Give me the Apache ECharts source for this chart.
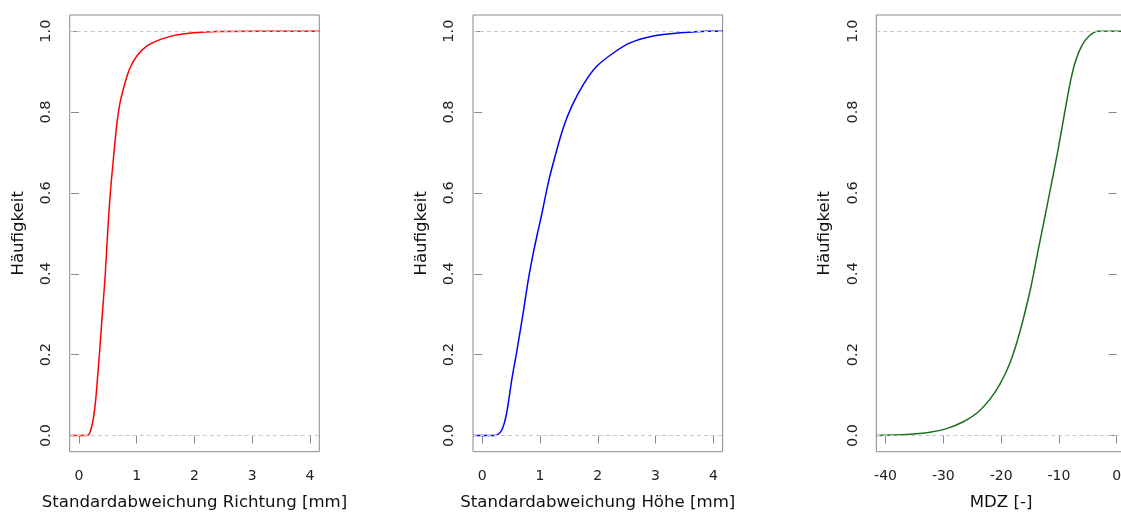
<!DOCTYPE html>
<html>
<head>
<meta charset="utf-8">
<style>
html,body{margin:0;padding:0;background:#fff;}
#c{width:1121px;height:512px;}
</style>
<script src="https://cdn.jsdelivr.net/npm/echarts@6/dist/echarts.min.js"></script>
</head>
<body>
<div id="c"></div>
<script>
// ---- data ----
const yTicks = [0, 0.2, 0.4, 0.6, 0.8, 1.0];
const x1Ticks = [0, 1, 2, 3, 4];
const x2Ticks = [0, 1, 2, 3, 4];
const x3Ticks = [-40, -30, -20, -10, 0];

const titles = ['Standardabweichung Richtung [mm]', 'Standardabweichung Höhe [mm]', 'MDZ [-]'];
const yName = 'Häufigkeit';

const redX = [-0.16, 0.144, 0.219, 0.277, 0.323, 0.364, 0.410, 0.456, 0.496, 0.543, 0.595, 0.652, 0.710, 0.797, 0.883, 0.999, 1.172, 1.403, 1.633, 1.980, 2.384, 4.16];
const redY = [0, 0, 0.021, 0.071, 0.145, 0.220, 0.310, 0.400, 0.500, 0.600, 0.682, 0.765, 0.822, 0.872, 0.909, 0.938, 0.963, 0.979, 0.989, 0.996, 0.999, 1.0];

const blueX = [-0.16, 0.22, 0.336, 0.42, 0.51, 0.60, 0.71, 0.797, 0.883, 0.97, 1.028, 1.143, 1.259, 1.403, 1.548, 1.749, 1.981, 2.268, 2.558, 2.961, 3.423, 3.886, 4.16];
const blueY = [0, 0, 0.013, 0.054, 0.137, 0.21, 0.305, 0.385, 0.451, 0.509, 0.546, 0.625, 0.69, 0.761, 0.814, 0.868, 0.913, 0.946, 0.971, 0.988, 0.996, 1.0, 1.0];

const greenX = [-41.62, -36.36, -32.32, -29.43, -26.54, -24.23, -21.92, -20.2, -18.45, -16.72, -14.83, -13.69, -12.53, -11.38, -10.24, -8.79, -7.93, -7.07, -6.0, -4.76, -3.3, 1.6];
const greenY = [0, 0.0025, 0.008, 0.017, 0.034, 0.055, 0.09, 0.127, 0.18, 0.258, 0.368, 0.451, 0.533, 0.616, 0.699, 0.815, 0.88, 0.928, 0.965, 0.988, 1.0, 1.0];

// ---- chart ----
const FONT = 'DejaVu Sans';
const pairs = (xs, ys) => xs.map((x, i) => [x, ys[i]]);

const panels = [
  {left: 69.7, xmin: -0.16, xmax: 4.16, ticks: x1Ticks, color: '#ff0000', data: pairs(redX, redY)},
  {left: 473, xmin: -0.16, xmax: 4.16, ticks: x2Ticks, color: '#0000ff', data: pairs(blueX, blueY)},
  {left: 876.3, xmin: -41.6, xmax: 1.6, ticks: x3Ticks, color: '#1b701b', data: pairs(greenX, greenY)}
];

const grid = [], xAxis = [], yAxis = [], series = [];
panels.forEach((p, i) => {
  grid.push({left: p.left, top: 15, width: 249.6, height: 436.7, show: true,
    outerBoundsMode: 'none', containLabel: false,
    borderColor: '#8a8a8a', borderWidth: 1, backgroundColor: 'transparent'});
  xAxis.push({
    type: 'value', gridIndex: i, min: p.xmin, max: p.xmax,
    axisLine: {show: false},
    splitLine: {show: false},
    axisTick: {show: true, customValues: p.ticks, length: 8, inside: false, lineStyle: {color: '#8a8a8a', width: 1}},
    axisLabel: {customValues: p.ticks, margin: 18, color: '#222', fontFamily: FONT, fontSize: 14,
      formatter: v => String(v)},
    name: titles[i], nameLocation: 'middle', nameGap: 42,
    nameTextStyle: {color: '#111', fontFamily: FONT, fontSize: 16.6}
  });
  yAxis.push({
    type: 'value', gridIndex: i, min: -0.04, max: 1.04,
    axisLine: {show: false},
    splitLine: {show: false},
    axisTick: {show: true, customValues: yTicks, length: 8, inside: false, lineStyle: {color: '#8a8a8a', width: 1}},
    axisLabel: {customValues: yTicks, rotate: 90, margin: 16, color: '#222', fontFamily: FONT, fontSize: 14.5,
      formatter: v => v.toFixed(1)},
    name: yName, nameLocation: 'middle', nameGap: 43,
    nameTextStyle: {color: '#111', fontFamily: FONT, fontSize: 16.6}
  });
  series.push({
    type: 'line', xAxisIndex: i, yAxisIndex: i, data: p.data,
    showSymbol: false, smooth: 0.3, clip: true,
    lineStyle: {color: p.color, width: 1.5},
    z: 3,
    markLine: {
      silent: true, symbol: ['none', 'none'], label: {show: false},
      lineStyle: {type: [4, 3], color: '#c8c8c8', width: 1},
      data: [{yAxis: 0}, {yAxis: 1}]
    }
  });
});

const chart = echarts.init(document.getElementById('c'), null, {renderer: 'canvas'});
chart.setOption({animation: false, backgroundColor: '#ffffff', grid, xAxis, yAxis, series});
</script>
</body>
</html>
